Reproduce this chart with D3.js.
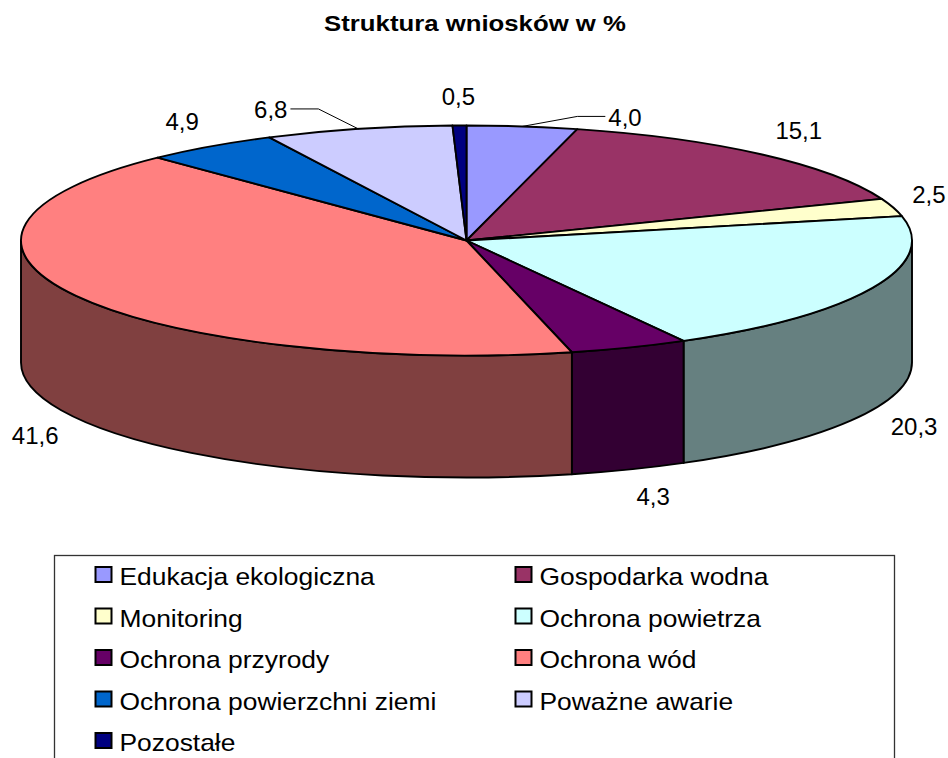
<!DOCTYPE html>
<html>
<head>
<meta charset="utf-8">
<script src="https://cdn.jsdelivr.net/npm/d3@7"></script>
<style>
  body { margin: 0; background: #fff; }
  text { font-family: "Liberation Sans", Arial, sans-serif; fill: #000; }
</style>
</head>
<body>
<div id="chart"></div>
<script>
// Data
var categories = ["Edukacja ekologiczna", "Gospodarka wodna", "Monitoring", "Ochrona powietrza",
	"Ochrona przyrody", "Ochrona wód", "Ochrona powierzchni ziemi", "Poważne awarie", "Pozostałe"];
var values = [4.0, 15.1, 2.5, 20.3, 4.3, 41.6, 4.9, 6.8, 0.5];
var colors = ["#9999FF", "#993366", "#FFFFCC", "#CCFFFF", "#660066", "#FF8080", "#0066CC", "#CCCCFF", "#000080"];
var title = "Struktura wniosków w %";

// Layout
var width = 948, height = 758;
var cx = 466.5, cy = 240.5;		// centre of the top face
var rx = 445.5, ry = 115;		// ellipse radii of the top face
var depth = 122;				// thickness of the pie
var labelGap = 20;
// labels pulled out with a leader line: index -> elbow offset from the slice edge
var leaderOffset = {0: [55, -10], 7: [-40, -20]};

var plFormat = d3.formatLocale({decimal: ",", thousands: " ", grouping: [3], currency: ["", " zł"]}).format(".1f");

var svg = d3.select("#chart").append("svg")
	.attr("width", width)
	.attr("height", height);

svg.append("rect").attr("width", width).attr("height", height).attr("fill", "#fff");

function stretched(parent, x, y, str, size, weight, anchor, sx) {
	var g = parent.append("g").attr("transform", "translate(" + x + "," + y + ") scale(" + sx + ",1)");
	return g.append("text")
		.attr("text-anchor", anchor)
		.style("font-size", size + "px")
		.style("font-weight", weight)
		.text(str);
}

// Title
stretched(svg, 475, 31, title, 23, "bold", "middle", 1.12);

// Angles (clockwise from 12 o'clock)
var pie = d3.pie().sort(null).value(function(d) { return d; }).startAngle(0).endAngle(2 * Math.PI);
var arcs = pie(values);

function pt(a, dy) {
	return [cx + rx * Math.sin(a), cy - ry * Math.cos(a) + (dy || 0)];
}

function topPath(d) {
	var p0 = pt(d.startAngle), p1 = pt(d.endAngle);
	var large = (d.endAngle - d.startAngle) > Math.PI ? 1 : 0;
	return "M" + cx + "," + cy + "L" + p0 + "A" + rx + "," + ry + " 0 " + large + " 1 " + p1 + "Z";
}

function sidePath(d) {
	var s = Math.max(d.startAngle, Math.PI / 2);
	var e = Math.min(d.endAngle, 3 * Math.PI / 2);
	if (e <= s) return null;
	var a = pt(s), b = pt(e), c = pt(e, depth), f = pt(s, depth);
	return "M" + a + "A" + rx + "," + ry + " 0 0 1 " + b +
		"L" + c + "A" + rx + "," + ry + " 0 0 0 " + f + "Z";
}

function darker(c) {
	var r = d3.rgb(c);
	return d3.rgb(r.r / 2, r.g / 2, r.b / 2).formatHex();
}

var pieG = svg.append("g");

// Side walls (front half only)
pieG.selectAll("path.side")
	.data(arcs.filter(function(d) { return sidePath(d) !== null; }))
	.enter()
	.append("path")
	.attr("class", "side")
	.attr("d", sidePath)
	.attr("fill", function(d) { return darker(colors[d.index]); })
	.attr("stroke", "#000")
	.attr("stroke-width", 1.9)
	.attr("stroke-linejoin", "round");

// Top faces
pieG.selectAll("path.top")
	.data(arcs)
	.enter()
	.append("path")
	.attr("class", "top")
	.attr("d", topPath)
	.attr("fill", function(d) { return colors[d.index]; })
	.attr("stroke", "#000")
	.attr("stroke-width", 1.9)
	.attr("stroke-linejoin", "round");

// Data labels
var labelG = svg.append("g");
arcs.forEach(function(d) {
	var a = (d.startAngle + d.endAngle) / 2;
	var s = Math.sin(a), c = Math.cos(a);
	var p = pt(a, c < 0 ? depth : 0);
	var t = labelG.append("text")
		.style("font-size", "24px")
		.attr("text-anchor", "middle")
		.attr("dy", "0.35em")
		.text(plFormat(d.data));
	var halfW = t.node().getComputedTextLength() / 2;
	var halfH = 8.5;
	if (leaderOffset[d.index]) {
		var off = leaderOffset[d.index];
		var dir = off[0] > 0 ? 1 : -1;
		var elbow = [p[0] + off[0], p[1] + off[1]];
		var end = [elbow[0] + dir * 28, elbow[1]];
		labelG.append("path")
			.attr("d", "M" + p + "L" + elbow + "L" + end)
			.attr("fill", "none")
			.attr("stroke", "#000")
			.attr("stroke-width", 1);
		t.attr("x", end[0] + dir * (3 + halfW)).attr("y", end[1] + 1);
	} else {
		var wx = Math.sign(s) * Math.min(1, Math.abs(s) * 3);
		var wy = Math.sign(c) * Math.min(1, Math.abs(c) * 3);
		t.attr("x", p[0] + s * labelGap + wx * halfW)
			.attr("y", p[1] - c * labelGap - wy * halfH);
	}
});

// Legend
var legendG = svg.append("g");
legendG.append("rect")
	.attr("x", 54.5)
	.attr("y", 555.5)
	.attr("width", 840)
	.attr("height", 230)
	.attr("fill", "#fff")
	.attr("stroke", "#333")
	.attr("stroke-width", 1.3);

var colX = [95.5, 515.5];
var rowY = d3.range(5).map(function(i) { return 567 + i * 41.5; });

categories.forEach(function(name, i) {
	var x = colX[i % 2], y = rowY[Math.floor(i / 2)];
	legendG.append("rect")
		.attr("x", x)
		.attr("y", y)
		.attr("width", 16)
		.attr("height", 15)
		.attr("fill", colors[i])
		.attr("stroke", "#000")
		.attr("stroke-width", 2);
	stretched(legendG, x + 24, y + 18, name, 24, "normal", "start", 1.1);
});
</script>
</body>
</html>
